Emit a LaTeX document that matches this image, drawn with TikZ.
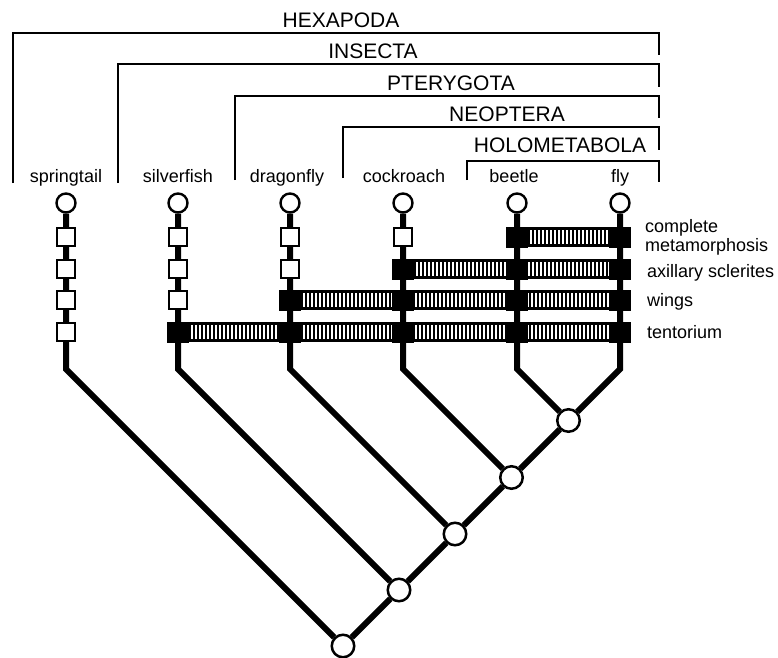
\documentclass[tikz,border=0pt]{standalone}
\usepackage{fontspec}
\setmainfont{Liberation Sans}
\pgfdeclarelayer{bg}
\pgfsetlayers{bg,main}
\begin{document}
\begin{tikzpicture}[x=1pt,y=-1pt,
  grp/.style={font=\fontsize{21}{25}\selectfont, inner sep=0pt, anchor=base},
  taxon/.style={font=\fontsize{18}{21}\selectfont, inner sep=0pt, anchor=base},
  chr/.style={font=\fontsize{18}{21}\selectfont, inner sep=0pt, anchor=base west},
  bracket/.style={line width=1.6pt},
  branch/.style={line width=6pt, line join=miter},
  tipc/.style={circle, draw, line width=2.4pt, fill=white, minimum size=19pt, inner sep=0pt},
  nodec/.style={circle, draw, line width=2.5pt, fill=white, minimum size=22.5pt, inner sep=0pt},
  opensq/.style={rectangle, draw, line width=2.4pt, fill=white, minimum size=18pt, inner sep=0pt},
  fullsq/.style={rectangle, fill=black, minimum width=22pt, minimum height=21pt, inner sep=0pt},
  barline/.style={line width=2.4pt},
  stripe/.style={line width=2pt},
]
\useasboundingbox (0,0) rectangle (778,657);

% clade brackets
\draw[bracket] (13,183) -- (13,33) -- (659,33) -- (659,55);
\draw[bracket] (118,183) -- (118,64) -- (659,64) -- (659,87);
\draw[bracket] (235,180) -- (235,96) -- (659,96) -- (659,118);
\draw[bracket] (343,178) -- (343,127) -- (659,127) -- (659,150);
\draw[bracket] (467,180) -- (467,161) -- (659,161) -- (659,182);
\node[grp] (lhex) at (341,27) {HEXAPODA};
\node[grp] (lins) at (373,58) {INSECTA};
\node[grp] (lpte) at (451,90) {PTERYGOTA};
\node[grp] (lneo) at (507,121) {NEOPTERA};
\node[grp] (lhol) at (560,152) {HOLOMETABOLA};

% taxa
\foreach \n/\x/\lx/\t in {1/66/66/springtail,2/178/178/silverfish,3/290/287/dragonfly,4/403/404/cockroach,5/517/514/beetle,6/620/620/fly} {
  \node[taxon] (lab\n) at (\lx,182) {\t};
  \node[tipc] (t\n) at (\x,203) {};
  \coordinate (b\n) at (\x,369);
}

% internal nodes
\node[nodec] (n1) at (343,646) {};
\node[nodec] (n2) at (399,590) {};
\node[nodec] (n3) at (455,534) {};
\node[nodec] (n4) at (511.5,477.5) {};
\node[nodec] (n5) at (568.5,420.5) {};

% character squares
\foreach \c/\x/\f in {1/66/5,2/178/4,3/290/3,4/403/2,5/517/1,6/620/1} {
  \foreach \r/\y in {1/237,2/269,3/300,4/332} {
    \ifnum\r<\f\relax
      \node[opensq] (s-\c-\r) at (\x,\y) {};
    \else
      \node[fullsq] (s-\c-\r) at (\x,\y) {};
    \fi
  }
}

% character labels
\node[chr] (ch1a) at (645,232) {complete};
\node[chr] (ch1b) at (645,251) {metamorphosis};
\node[chr] (ch2) at (647,277) {axillary sclerites};
\node[chr] (ch3) at (647,306) {wings};
\node[chr] (ch4) at (647,338) {tentorium};

\begin{pgfonlayer}{bg}
  % tree
  \draw[branch] (t1) -- (b1) -- (n1);
  \draw[branch] (t2) -- (b2) -- (n2);
  \draw[branch] (t3) -- (b3) -- (n3);
  \draw[branch] (t4) -- (b4) -- (n4);
  \draw[branch] (t5) -- (b5) -- (n5);
  \draw[branch] (t6) -- (b6) -- (n5) -- (n4) -- (n3) -- (n2) -- (n1);
  % synapomorphy bars (striped)
  \foreach \r/\y/\xa in {1/237/517,2/269/403,3/300/290,4/332/178} {
    \pgfmathtruncatemacro\nn{(620-\xa)/4}
    \foreach \k in {0,...,\nn} {
      \draw[stripe] (\xa+4*\k,\y-8) -- (\xa+4*\k,\y+8);
    }
    \draw[barline] (\xa,\y-8.5) -- (620,\y-8.5);
    \draw[barline] (\xa,\y+8.5) -- (620,\y+8.5);
  }
\end{pgfonlayer}
\end{tikzpicture}
\end{document}
